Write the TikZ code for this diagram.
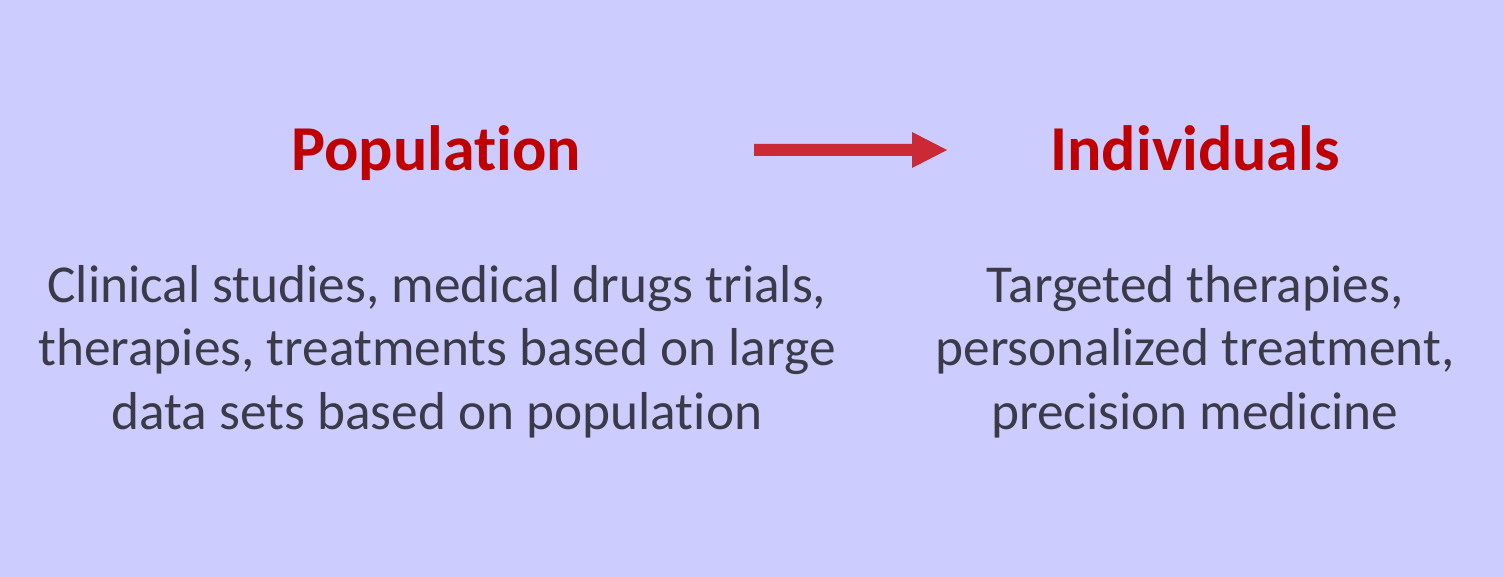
\documentclass[tikz,border=0pt]{standalone}
\usepackage{fontspec}
\setmainfont[Ligatures={NoCommon}]{Carlito}
\definecolor{bgc}{HTML}{CCCCFF}
\definecolor{titlec}{HTML}{C00000}
\definecolor{bodyc}{HTML}{3A3A48}
\definecolor{arrowc}{HTML}{CC2936}
\begin{document}
\begin{tikzpicture}[x=0.75pt,y=-0.75pt,
  titletext/.style={font=\fontsize{48}{58}\selectfont\bfseries, text=titlec, anchor=base, inner sep=0pt},
  bodytext/.style={font=\fontsize{40}{48}\selectfont, text=bodyc, align=center, anchor=base, inner sep=0pt}]
\useasboundingbox (0,0) rectangle (1504,577);
\fill[bgc] (0,0) rectangle (1504,577);
\node[titletext] (pop) at (436,171) {Population};
\node[titletext] (ind) at (1195,171) {Individuals};
\node[bodytext] (popbody) at (437,430) {Clinical studies, medical drugs trials,\\therapies, treatments based on large\\data sets based on population};
\node[bodytext] (indbody) at (1195,430) {Targeted therapies,\\personalized treatment,\\precision medicine};
\coordinate (as) at (754,150);
\coordinate (ae) at (947,150);
\fill[arrowc] (as) ++(0,-6) -- ++(158,0) -- ++(0,-12) -- (ae) -- ++(-35,18) -- ++(0,-12) -- ++(-158,0) -- cycle;
\end{tikzpicture}
\end{document}
